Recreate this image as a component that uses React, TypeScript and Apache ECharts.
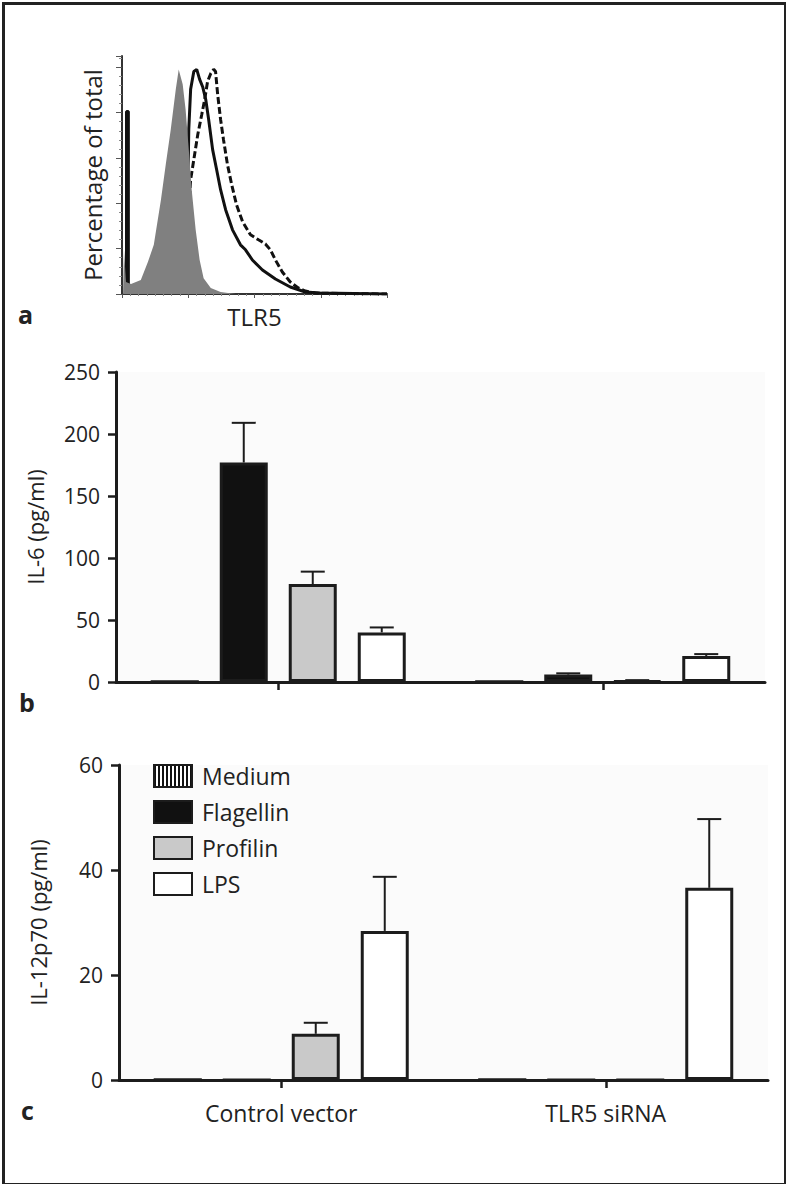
import React, { useEffect, useRef } from "react";
import * as echarts from "echarts";

// ---------- Panel a: TLR5 histogram (x in % of axis width, y in % of max) ----------
const histIsotype: [number, number][] = [
  [0.4, 0], [0.75, 19.5], [1.5, 5.3], [3.4, 4.4], [7.1, 6.2], [9.8, 14.2], [12, 21.7],
  [14.7, 41.6], [16.5, 57], [18.4, 72.6], [20.3, 90.3], [21.4, 99], [22.9, 92.5],
  [24, 81.4], [25.2, 63.7], [26.3, 46], [27.8, 28.3], [29.3, 15], [30.8, 7],
  [33.5, 2.7], [37.2, 0.9], [42.9, 0],
];
const histSolid: [number, number][] = [
  [1.7, 0], [1.7, 80.5], [2.4, 80.5], [2.4, 3], [12, 3], [20, 4], [22.2, 5],
  [24, 19.5], [24.8, 41.6], [25.2, 72.6], [25.9, 90.3], [27.1, 98.2], [28.2, 99.1],
  [29.3, 94.7], [30.5, 91.2], [31.6, 85.8], [32.7, 77], [34.2, 63.7], [35.7, 54.9],
  [37.2, 46], [39.1, 37.2], [41.7, 28.3], [44.7, 21.7], [46.6, 19.5], [49.2, 15],
  [53, 10.6], [57.9, 6.6], [63.5, 3.1], [69.2, 0.9], [74.8, 0.4], [100, 0],
];
const histDashed: [number, number][] = [
  [22, 3], [24.5, 20], [25.2, 37.2], [25.9, 50.4], [27.1, 59.3], [28.6, 70.4],
  [30.1, 79.2], [31.2, 85.8], [32.3, 93.8], [33.5, 97.3], [34.6, 99.1], [35.3, 98.2],
  [36.1, 88], [37.2, 77], [38.3, 68.1], [39.8, 57.1], [41.4, 48.2], [43.2, 39.4],
  [45.5, 31.9], [48.5, 26.1], [51.5, 23.9], [54.1, 22.1], [56, 19.5], [57.9, 15],
  [60.5, 9.7], [63.5, 5.3], [66.5, 2.7], [69.2, 1.3], [72.9, 0.4], [100, 0],
];

// ---------- Panels b and c ----------
const groups = ["Control vector", "TLR5 siRNA"];
const treatments = ["Medium", "Flagellin", "Profilin", "LPS"];

const il6Medium = [0, 0];
const il6Flagellin = [177, 6];
const il6Profilin = [79, 1];
const il6LPS = [40, 21];
const il6MediumErr = [0, 0];
const il6FlagellinErr = [32, 1];
const il6ProfilinErr = [10, 0.5];
const il6LPSErr = [4, 1.5];

const il12Medium = [0, 0];
const il12Flagellin = [0, 0];
const il12Profilin = [8.8, 0];
const il12LPS = [28.4, 36.6];
const il12MediumErr = [0, 0];
const il12FlagellinErr = [0, 0];
const il12ProfilinErr = [2.1, 0];
const il12LPSErr = [10.3, 13.1];

const il6Ticks = { min: 0, max: 250, interval: 50 };
const il12Ticks = { min: 0, max: 60, interval: 20 };

const FONT = "'Open Sans', 'Noto Sans', sans-serif";
const INK = "#1c1c1c";
const BAR_W = 48;
const SPACING = 69;

const fills: Record<string, string> = {
  Medium: "#ffffff",
  Flagellin: "#111111",
  Profilin: "#c9c9c9",
  LPS: "#ffffff",
};

function barSeries(name: string, data: number[], xi: number) {
  const itemStyle: any = { color: fills[name], borderColor: INK, borderWidth: 3 };
  if (name === "Medium") {
    itemStyle.decal = {
      symbol: "rect",
      symbolSize: 1,
      dashArrayX: [2, 2],
      dashArrayY: [5, 0],
      color: "#111",
      rotation: 0,
    };
  }
  return {
    type: "bar",
    name,
    xAxisIndex: xi,
    yAxisIndex: xi,
    barWidth: BAR_W,
    barGap: `${((SPACING / BAR_W - 1) * 100).toFixed(2)}%`,
    data,
    itemStyle,
    z: 3,
  };
}

function errSeries(means: number[][], errs: number[][], xi: number) {
  const data: number[][] = [];
  means.forEach((arr, si) => {
    arr.forEach((m, ci) => {
      data.push([ci, m, errs[si][ci], si]);
    });
  });
  return {
    type: "custom",
    xAxisIndex: xi,
    yAxisIndex: xi,
    z: 2,
    silent: true,
    data,
    renderItem: (_p: any, api: any) => {
      const ci = api.value(0);
      const v = api.value(1);
      const e = api.value(2);
      const si = api.value(3);
      if (!e) return { type: "group", children: [] };
      const base = api.coord([ci, v]);
      const top = api.coord([ci, v + e]);
      const x = base[0] + (si - 1.5) * SPACING;
      return {
        type: "group",
        children: [
          { type: "line", shape: { x1: x, y1: base[1], x2: x, y2: top[1] }, style: { stroke: INK, lineWidth: 2 } },
          { type: "line", shape: { x1: x - 12, y1: top[1], x2: x + 12, y2: top[1] }, style: { stroke: INK, lineWidth: 2 } },
        ],
      };
    },
  };
}

export default function App() {
  const ref = useRef<HTMLDivElement>(null);
  useEffect(() => {
    if (!ref.current) return;
    const chart = echarts.init(ref.current, null, { renderer: "svg" });
    const catAxis = (gi: number, showLabel: boolean) => ({
      type: "category",
      gridIndex: gi,
      data: groups,
      boundaryGap: true,
      axisLine: { lineStyle: { color: INK, width: 3 } },
      axisTick: { show: true, alignWithLabel: true, length: 8, lineStyle: { color: INK, width: 2.5 } },
      axisLabel: { show: showLabel, color: "#222", fontSize: 23, fontFamily: FONT, margin: 21 },
      splitLine: { show: false },
    });
    const valAxis = (gi: number, t: any, name: string, gap: number) => ({
      type: "value",
      gridIndex: gi,
      min: t.min,
      max: t.max,
      interval: t.interval,
      name,
      nameLocation: "middle",
      nameGap: gap,
      nameTextStyle: { color: "#222", fontSize: 22, fontFamily: FONT },
      axisLine: { show: true, lineStyle: { color: INK, width: 3 } },
      axisTick: { show: true, length: 8, lineStyle: { color: INK, width: 2.5 } },
      axisLabel: { color: "#222", fontSize: 21, fontFamily: FONT, margin: 16 },
      splitLine: { show: false },
    });

    const option: any = {
      animation: false,
      backgroundColor: "#ffffff",
      textStyle: { fontFamily: FONT },
      grid: [
        { left: 122, right: 399, top: 56, bottom: 890, containLabel: false },
        { left: 116, right: 21, top: 372, bottom: 502, show: true, backgroundColor: "#fbfbfb", borderWidth: 0 },
        { left: 119, right: 18, top: 765, bottom: 104, show: true, backgroundColor: "#fbfbfb", borderWidth: 0 },
      ],
      xAxis: [
        {
          type: "value",
          gridIndex: 0,
          min: 0,
          max: 100,
          interval: 25,
          name: "TLR5",
          nameLocation: "middle",
          nameGap: 10,
          nameTextStyle: { color: "#222", fontSize: 24, fontFamily: FONT, verticalAlign: "top" },
          axisLine: { lineStyle: { color: "#333", width: 2 } },
          axisTick: { show: true, length: 4, lineStyle: { color: "#555", width: 1 } },
          minorTick: { show: true, splitNumber: 8, length: 2, lineStyle: { color: "#888", width: 1 } },
          axisLabel: { show: false },
          splitLine: { show: false },
        },
        catAxis(1, false),
        catAxis(2, true),
      ],
      yAxis: [
        {
          type: "value",
          gridIndex: 0,
          min: 0,
          max: 105,
          interval: 20,
          name: "Percentage of total",
          nameLocation: "middle",
          nameGap: 18,
          nameTextStyle: { color: "#222", fontSize: 24, fontFamily: FONT },
          axisLine: { show: true, lineStyle: { color: "#333", width: 2 } },
          axisTick: { show: true, length: 6, lineStyle: { color: "#555", width: 1 } },
          minorTick: { show: true, splitNumber: 5, length: 3, lineStyle: { color: "#888", width: 1 } },
          axisLabel: { show: false },
          splitLine: { show: false },
        },
        valAxis(1, il6Ticks, "IL-6 (pg/ml)", 70),
        valAxis(2, il12Ticks, "IL-12p70 (pg/ml)", 70),
      ],
      legend: {
        data: treatments,
        orient: "vertical",
        left: 153,
        top: 764,
        padding: 0,
        icon: "rect",
        itemWidth: 38,
        itemHeight: 22,
        itemGap: 12,
        textStyle: { color: "#222", fontSize: 23, fontFamily: FONT, padding: [0, 0, 0, 5] },
        selectedMode: false,
      },
      series: [
        {
          type: "line",
          name: "solid",
          xAxisIndex: 0,
          yAxisIndex: 0,
          data: histSolid,
          showSymbol: false,
          lineStyle: { color: "#111", width: 3 },
          z: 2,
        },
        {
          type: "line",
          name: "dashed",
          xAxisIndex: 0,
          yAxisIndex: 0,
          data: histDashed,
          showSymbol: false,
          lineStyle: { color: "#111", width: 3, type: [7, 3] },
          z: 2,
        },
        {
          type: "line",
          name: "isotype",
          xAxisIndex: 0,
          yAxisIndex: 0,
          data: histIsotype,
          showSymbol: false,
          lineStyle: { width: 0 },
          areaStyle: { color: "#808080", opacity: 1 },
          z: 3,
        },
        barSeries("Medium", il6Medium, 1),
        barSeries("Flagellin", il6Flagellin, 1),
        barSeries("Profilin", il6Profilin, 1),
        barSeries("LPS", il6LPS, 1),
        errSeries([il6Medium, il6Flagellin, il6Profilin, il6LPS], [il6MediumErr, il6FlagellinErr, il6ProfilinErr, il6LPSErr], 1),
        barSeries("Medium", il12Medium, 2),
        barSeries("Flagellin", il12Flagellin, 2),
        barSeries("Profilin", il12Profilin, 2),
        barSeries("LPS", il12LPS, 2),
        errSeries([il12Medium, il12Flagellin, il12Profilin, il12LPS], [il12MediumErr, il12FlagellinErr, il12ProfilinErr, il12LPSErr], 2),
      ],
      graphic: [
        { type: "rect", left: 1, top: 1, shape: { x: 1, y: 1, width: 782, height: 1181 }, style: { fill: "none", stroke: "#222", lineWidth: 3 }, z: 100 },
        { type: "text", x: 18, y: 301, style: { text: "a", font: `bold 25px ${FONT}`, fill: "#222" }, z: 100 },
        { type: "text", x: 19, y: 689, style: { text: "b", font: `bold 25px ${FONT}`, fill: "#222" }, z: 100 },
        { type: "text", x: 21, y: 1097, style: { text: "c", font: `bold 25px ${FONT}`, fill: "#222" }, z: 100 },
      ],
    };
    chart.setOption(option);
    return () => chart.dispose();
  }, []);
  return (
    <div
      ref={ref}
      style={{ position: "absolute", left: 0, top: 0, width: 786, height: 1184, background: "#fff" }}
    />
  );
}
